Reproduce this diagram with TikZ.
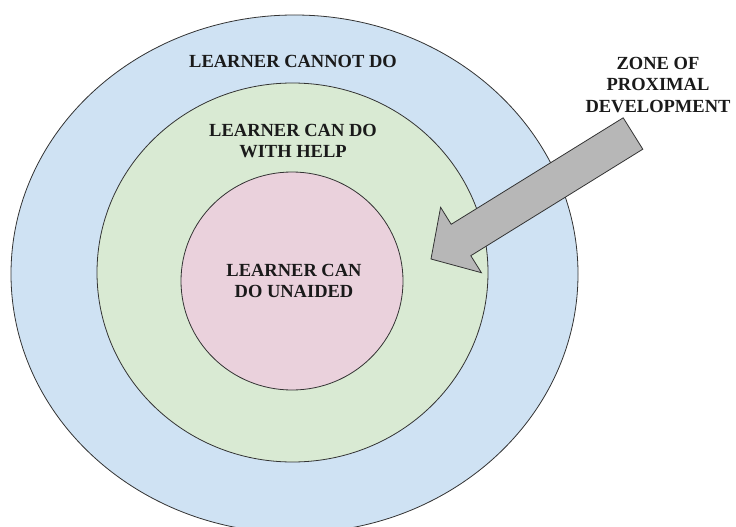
\documentclass[tikz,border=0pt]{standalone}
\usepackage{fontspec}
\setmainfont{Liberation Serif}
\definecolor{zblue}{HTML}{CFE2F3}
\definecolor{zgreen}{HTML}{D9EAD3}
\definecolor{zpink}{HTML}{EAD1DC}
\definecolor{zgray}{HTML}{B7B7B7}
\definecolor{zline}{HTML}{333333}
\definecolor{ztext}{HTML}{1A1A1A}
\begin{document}
\begin{tikzpicture}[x=1pt,y=-1pt,
  ring/.style={draw=zline,line width=0.8pt},
  lbl/.style={font=\fontsize{18.5}{21.5}\selectfont\bfseries,text=ztext,align=center,inner sep=0pt}]
\useasboundingbox (0,0) rectangle (736,527);
\fill[white] (0,0) rectangle (736,527);
\coordinate (co) at (294.5,274);
\coordinate (cg) at (292.5,272.5);
\coordinate (cp) at (292,281);
\path[ring,fill=zblue] (co) ellipse [x radius=283.5pt,y radius=259pt];
\path[ring,fill=zgreen] (cg) ellipse [x radius=195.5pt,y radius=189.5pt];
\path[ring,fill=zpink] (cp) ellipse [x radius=111pt,y radius=109pt];
\draw[ring,fill=zgray,line join=miter]
  (623.2,117.8) -- (642.8,149.2) -- (470.8,255.7) -- (481.4,272.7)
  -- (431,259) -- (440.6,207.3) -- (451.2,224.3) -- cycle;
\node[lbl] (cannot) at (293,61) {LEARNER CANNOT DO};
\node[lbl] (help) at (293,141) {LEARNER CAN DO\\WITH HELP};
\node[lbl] (unaided) at (294,281) {LEARNER CAN\\DO UNAIDED};
\node[lbl] (zpd) at (658,85) {ZONE OF\\PROXIMAL\\DEVELOPMENT};
\end{tikzpicture}
\end{document}
